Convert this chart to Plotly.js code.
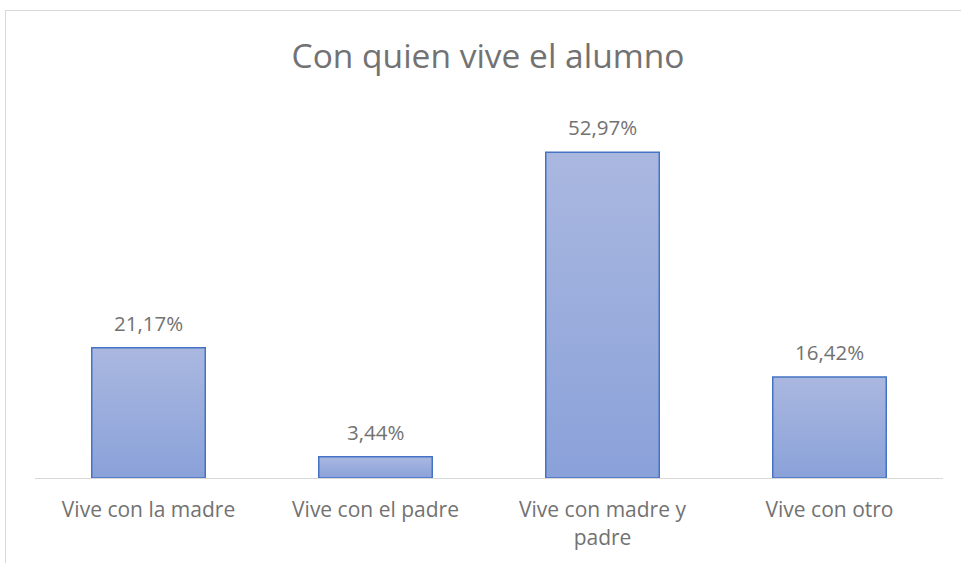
<!DOCTYPE html>
<html>
<head>
<meta charset="utf-8">
<script src="https://cdn.plot.ly/plotly-3.0.1.min.js"></script>
<style>
  html, body { margin: 0; padding: 0; background: #fff; }
  #wrap { position: relative; width: 961px; height: 563px; overflow: hidden; }
  #chart { position: absolute; left: 0; top: 0; width: 961px; height: 563px; }
  #frame { position: absolute; left: 5px; top: 10px; width: 960px; height: 600px;
           border: 1px solid #D9D9D9; box-sizing: border-box; pointer-events: none; }
</style>
</head>
<body>
<div id="wrap">
  <div id="chart"></div>
  <div id="frame"></div>
</div>
<script>
const titleText = "Con quien vive el alumno";
const categories = ["Vive con la madre", "Vive con el padre", "Vive con madre y padre", "Vive con otro"];
const tickLabels = ["Vive con la madre", "Vive con el padre", "Vive con madre y<br>padre", "Vive con otro"];
const values = [21.17, 3.44, 52.97, 16.42];

const fmt = v => v.toFixed(2).replace('.', ',') + '%';
const grey = '#727272';
const fontFam = '"Open Sans", "Liberation Sans", sans-serif';

const trace = {
  type: 'bar',
  x: categories,
  y: values,
  marker: { color: '#9AAEDD', line: { color: '#4472C4', width: 1.5 } },
  width: 0.5,
  hoverinfo: 'none'
};

const annotations = categories.map((c, i) => ({
  x: c, y: values[i], xref: 'x', yref: 'y',
  text: fmt(values[i]), showarrow: false,
  yanchor: 'bottom', yshift: 9,
  font: { family: fontFam, size: 20.5, color: grey }
}));

const layout = {
  width: 961, height: 563,
  margin: { l: 35, r: 18, t: 109, b: 85 },
  paper_bgcolor: '#ffffff', plot_bgcolor: '#ffffff',
  showlegend: false,
  title: {
    text: titleText,
    font: { family: fontFam, size: 33.5, color: grey },
    x: 488 / 961, xref: 'container', xanchor: 'center',
    y: 1 - 56 / 563, yref: 'container', yanchor: 'middle'
  },
  xaxis: {
    type: 'category',
    tickvals: categories, ticktext: tickLabels,
    showline: true, linecolor: '#D9D9D9', linewidth: 1,
    ticks: '', showgrid: false, zeroline: false,
    tickfont: { family: fontFam, size: 21, color: grey },
    ticklabelstandoff: 13
  },
  yaxis: {
    range: [0, 60], visible: false, showgrid: false, zeroline: false
  },
  annotations: annotations
};

Plotly.newPlot('chart', [trace], layout, { staticPlot: true, displayModeBar: false }).then(gd => {
  const svg = gd.querySelector('svg.main-svg');
  const ns = 'http://www.w3.org/2000/svg';
  let defs = svg.querySelector('defs');
  if (!defs) { defs = document.createElementNS(ns, 'defs'); svg.insertBefore(defs, svg.firstChild); }
  const lg = document.createElementNS(ns, 'linearGradient');
  lg.setAttribute('id', 'barGrad');
  lg.setAttribute('x1', '0'); lg.setAttribute('y1', '0');
  lg.setAttribute('x2', '0'); lg.setAttribute('y2', '1');
  [['0%', '#AAB8E0'], ['100%', '#8AA1D9']].forEach(([o, c]) => {
    const s = document.createElementNS(ns, 'stop');
    s.setAttribute('offset', o); s.setAttribute('stop-color', c);
    lg.appendChild(s);
  });
  defs.appendChild(lg);
  gd.querySelectorAll('.trace.bars .point path').forEach(p => {
    p.style.fill = 'url(#barGrad)';
  });
});
</script>
</body>
</html>
